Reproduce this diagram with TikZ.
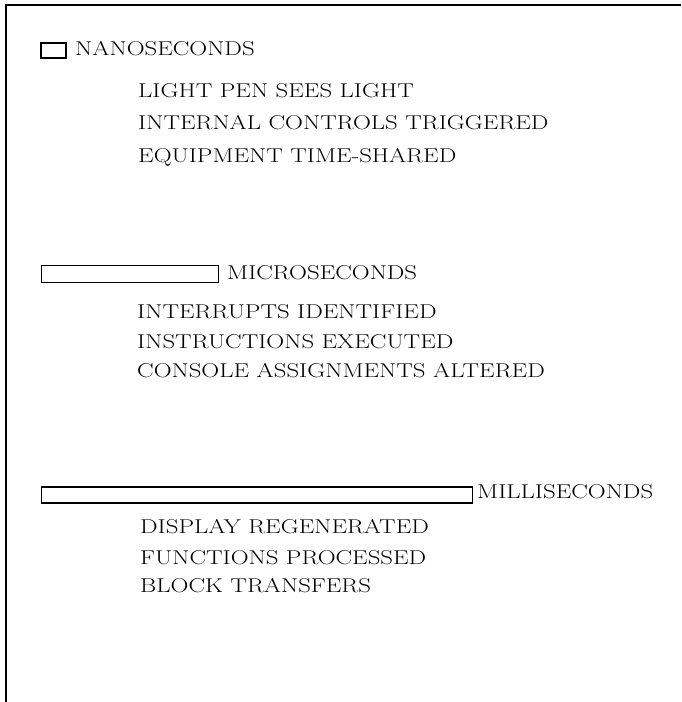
\documentclass[tikz,border=0pt]{standalone}
\usepackage{graphicx}
\newcommand{\widetxt}[1]{\scalebox{1.24}[1]{#1}}
\begin{document}
\begin{tikzpicture}[x=1pt,y=-1pt,
  frame/.style={line width=1.8pt},
  bar/.style={draw, line width=1.8pt},
  lbl/.style={inner sep=0pt, anchor=base west, font=\fontsize{20}{24}\selectfont}]
\useasboundingbox (0,0) rectangle (681,702);
% frame
\coordinate (ftr) at (681,5);
\coordinate (ftl) at (6,5);
\coordinate (fbl) at (6,702);
\draw[frame] (ftr) -- (ftl) -- (fbl);
% nanoseconds
\node[bar, inner sep=0pt, minimum width=25pt, minimum height=15pt, anchor=north west, line width=2.4pt] (nbox) at (39.5,42) {};
\node[lbl] (nano) at (75,55) {\widetxt{NANOSECONDS}};
\node[lbl] (n1) at (138,97) {\widetxt{LIGHT PEN SEES LIGHT}};
\node[lbl] (n2) at (138,129) {\widetxt{INTERNAL CONTROLS TRIGGERED}};
\node[lbl] (n3) at (138,162) {\widetxt{EQUIPMENT TIME-SHARED}};
% microseconds
\node[bar, inner sep=0pt, minimum width=177pt, minimum height=17pt, anchor=north west] (mbox) at (40.5,264.5) {};
\node[lbl] (micro) at (227,279) {\widetxt{MICROSECONDS}};
\node[lbl] (m1) at (137,318) {\widetxt{INTERRUPTS IDENTIFIED}};
\node[lbl] (m2) at (137,348) {\widetxt{INSTRUCTIONS EXECUTED}};
\node[lbl] (m3) at (137,377) {\widetxt{CONSOLE ASSIGNMENTS ALTERED}};
% milliseconds
\node[bar, inner sep=0pt, minimum width=431pt, minimum height=16pt, anchor=north west] (lbox) at (40.5,486) {};
\node[lbl] (milli) at (477,498) {\widetxt{MILLISECONDS}};
\node[lbl] (l1) at (140,533) {\widetxt{DISPLAY REGENERATED}};
\node[lbl] (l2) at (140,564) {\widetxt{FUNCTIONS PROCESSED}};
\node[lbl] (l3) at (140,592) {\widetxt{BLOCK TRANSFERS}};
\end{tikzpicture}
\end{document}
